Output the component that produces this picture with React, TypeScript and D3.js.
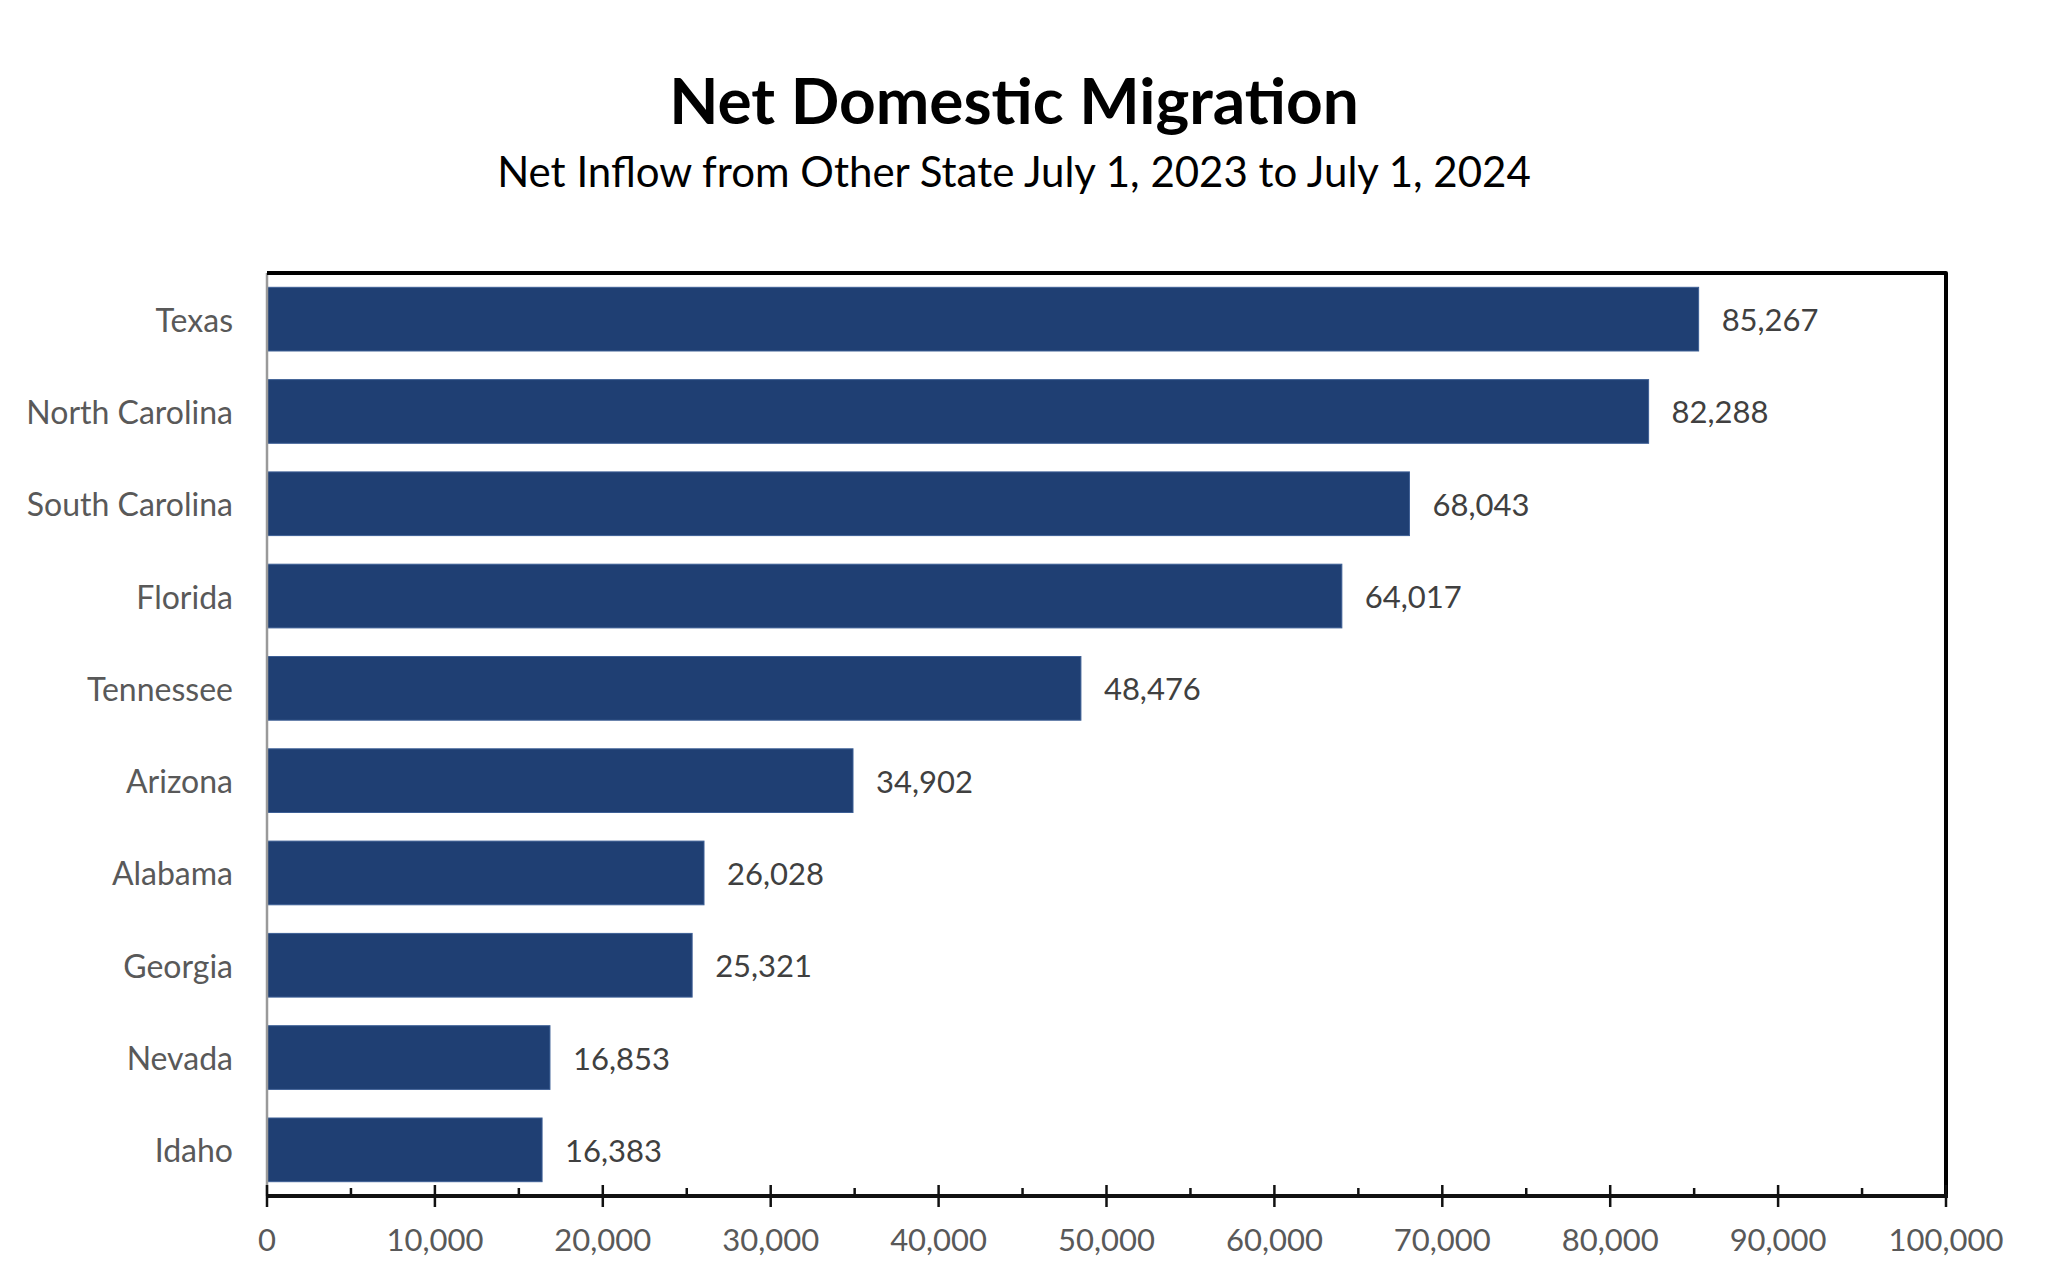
import React from "react";
import * as d3 from "d3";

const states = ["Texas", "North Carolina", "South Carolina", "Florida", "Tennessee", "Arizona", "Alabama", "Georgia", "Nevada", "Idaho"];
const inflows = [85267, 82288, 68043, 64017, 48476, 34902, 26028, 25321, 16853, 16383];
const majorTicks = [0, 10000, 20000, 30000, 40000, 50000, 60000, 70000, 80000, 90000, 100000];
const minorTicks = [5000, 15000, 25000, 35000, 45000, 55000, 65000, 75000, 85000, 95000];
const title = "Net Domestic Migration";
const subtitle = "Net Inflow from Other State July 1, 2023 to July 1, 2024";

const W = 2048;
const H = 1287;
const left = 267;
const right = 1946;
const top = 273;
const bottom = 1196;
const FONT = "Lato, 'Open Sans', sans-serif";

export default function App() {
  const x = d3.scaleLinear().domain([0, 100000]).range([left, right]);
  const y = d3.scaleBand<string>().domain(states).range([top, bottom]).paddingInner(0.31).paddingOuter(0.155);
  const fmt = d3.format(",");

  return (
    <div style={{ position: "absolute", left: 0, top: 0, background: "#fff" }}>
      <svg width={W} height={H} viewBox={`0 0 ${W} ${H}`} style={{ display: "block" }}>
        <rect x={0} y={0} width={W} height={H} fill="#fff" />
        <text x={1014} y={124} textAnchor="middle" fontFamily={FONT} fontWeight={700} fontSize={64} fill="#000">
          {title}
        </text>
        <text x={1014} y={187} textAnchor="middle" fontFamily={FONT} fontSize={42} fill="#000">
          {subtitle}
        </text>

        {states.map((s, i) => (
          <rect
            key={s}
            x={x(0)}
            y={y(s)}
            width={x(inflows[i]) - x(0)}
            height={y.bandwidth()}
            fill="#1f3f73"
            stroke="#3d5f95"
            strokeWidth={1}
          />
        ))}

        {states.map((s) => (
          <text
            key={"l" + s}
            x={233}
            y={(y(s) as number) + y.bandwidth() / 2}
            textAnchor="end"
            dominantBaseline="central"
            fontFamily={FONT}
            fontSize={32}
            fill="#595959"
          >
            {s}
          </text>
        ))}

        {states.map((s, i) => (
          <text
            key={"v" + s}
            x={x(inflows[i]) + 23}
            y={(y(s) as number) + y.bandwidth() / 2}
            textAnchor="start"
            dominantBaseline="central"
            fontFamily={FONT}
            fontSize={31}
            fill="#404040"
          >
            {fmt(inflows[i])}
          </text>
        ))}

        {/* left axis line */}
        <line x1={left} x2={left} y1={top} y2={bottom} stroke="#9a9a9a" strokeWidth={2.5} />
        {/* top and right border */}
        <path
          d={`M${left},${top}L${right},${top}L${right},${bottom}`}
          fill="none"
          stroke="#000"
          strokeWidth={4}
          strokeLinejoin="round"
        />
        {/* bottom axis */}
        <line x1={left - 1} x2={right + 2} y1={bottom} y2={bottom} stroke="#111" strokeWidth={4} />
        {majorTicks.map((t) => (
          <line key={"M" + t} x1={x(t)} x2={x(t)} y1={bottom - 11} y2={bottom + 11} stroke="#111" strokeWidth={2.5} />
        ))}
        {minorTicks.map((t) => (
          <line key={"m" + t} x1={x(t)} x2={x(t)} y1={bottom - 8} y2={bottom} stroke="#111" strokeWidth={2.5} />
        ))}
        {majorTicks.map((t) => (
          <text
            key={"t" + t}
            x={x(t)}
            y={1251}
            textAnchor="middle"
            fontFamily={FONT}
            fontSize={31}
            fill="#595959"
          >
            {fmt(t)}
          </text>
        ))}
      </svg>
    </div>
  );
}
